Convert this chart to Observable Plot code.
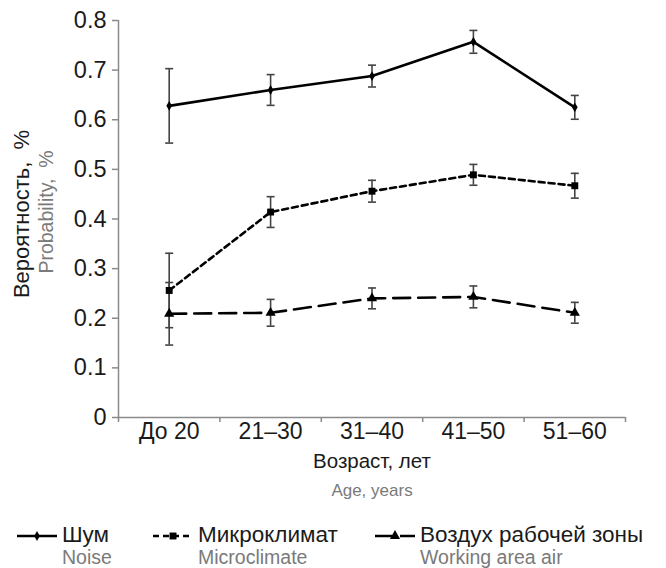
<!DOCTYPE html>
<html>
<head>
<meta charset="utf-8">
<script src="https://cdn.jsdelivr.net/npm/d3@7"></script>
<script src="https://cdn.jsdelivr.net/npm/@observablehq/plot@0.6"></script>
<style>
  html, body { margin: 0; padding: 0; background: #fff; }
  body { width: 666px; height: 568px; overflow: hidden; font-family: "Liberation Sans", Arial, sans-serif; }
  #chart svg { display: block; }
  #legend { position: relative; width: 666px; height: 63px; }
  .sw { position: absolute; top: 25px; }
  .ru { position: absolute; top: 18px; font-size: 22.5px; color: #1a1a1a; white-space: nowrap; line-height: 24px; }
  .en { position: absolute; top: 42px; font-size: 19.5px; color: #7a7a7a; white-space: nowrap; line-height: 21px; }
</style>
</head>
<body>
<div id="chart"></div>
<div id="legend"></div>
<script>
const categories = ["До 20", "21–30", "31–40", "41–50", "51–60"];
const noise      = [0.628, 0.660, 0.688, 0.757, 0.625];
const noiseErr   = [0.075, 0.031, 0.022, 0.023, 0.024];
const micro      = [0.256, 0.414, 0.456, 0.489, 0.467];
const microErr   = [0.075, 0.031, 0.022, 0.021, 0.025];
const air        = [0.209, 0.211, 0.240, 0.243, 0.211];
const airErr     = [0.063, 0.027, 0.021, 0.022, 0.021];
const yTicks     = [0, 0.1, 0.2, 0.3, 0.4, 0.5, 0.6, 0.7, 0.8];
const seriesNames = ["Шум", "Микроклимат", "Воздух рабочей зоны"];
const seriesNamesEn = ["Noise", "Microclimate", "Working area air"];

const xIdx = categories.map((_, i) => i);
const bounds = [-0.5, 0.5, 1.5, 2.5, 3.5, 4.5];

function rows(vals, errs) {
  return vals.map((v, i) => ({i, v, lo: v - errs[i], hi: v + errs[i]}));
}
const sNoise = rows(noise, noiseErr);
const sMicro = rows(micro, microErr);
const sAir = rows(air, airErr);
const allRows = [...sNoise, ...sMicro, ...sAir];

const capSymbol = { draw(ctx) { ctx.moveTo(-4, 0); ctx.lineTo(4, 0); } };

const font = '"Liberation Sans", Arial, sans-serif';
const chart = Plot.plot({
  width: 666,
  height: 505,
  marginLeft: 118,
  marginRight: 41,
  marginTop: 20,
  marginBottom: 88,
  style: { fontFamily: font, background: "#fff" },
  x: { domain: [-0.5, 4.5], axis: null, label: null },
  y: { domain: [0, 0.8], axis: null, label: null },
  marks: [
    Plot.ruleX([-0.5], { y1: 0, y2: 0.8, stroke: "#8a8a8a", strokeWidth: 1.5 }),
    Plot.ruleY([0], { x1: -0.5, x2: 4.5, stroke: "#8a8a8a", strokeWidth: 1.5 }),
    Plot.axisY({ ticks: yTicks, tickSize: 6, stroke: "#8a8a8a", strokeWidth: 1.5, tickFormat: () => "", label: null }),
    Plot.axisY({ ticks: yTicks, tickSize: 0, tickPadding: 12, color: "#1a1a1a", fontSize: 23.5, label: null,
      tickFormat: d => d === 0 ? "0" : d.toFixed(1) }),
    Plot.axisX({ ticks: bounds, tickSize: 5, stroke: "#8a8a8a", strokeWidth: 1.5, tickFormat: () => "", label: null }),
    Plot.axisX({ ticks: xIdx, tickSize: 0, tickPadding: 5, color: "#1a1a1a", fontSize: 23, label: null,
      tickFormat: i => categories[i] }),
    // error bars
    Plot.ruleX(allRows, { x: "i", y1: "lo", y2: "hi", stroke: "#444", strokeWidth: 1.6 }),
    Plot.dot(allRows, { x: "i", y: "lo", symbol: capSymbol, stroke: "#444", strokeWidth: 1.6, fill: "none" }),
    Plot.dot(allRows, { x: "i", y: "hi", symbol: capSymbol, stroke: "#444", strokeWidth: 1.6, fill: "none" }),
    // lines
    Plot.line(sNoise, { x: "i", y: "v", stroke: "#000", strokeWidth: 2.6 }),
    Plot.line(sMicro, { x: "i", y: "v", stroke: "#000", strokeWidth: 2.6, strokeDasharray: "6,4" }),
    Plot.line(sAir, { x: "i", y: "v", stroke: "#000", strokeWidth: 2.6, strokeDasharray: "17,8" }),
    // markers
    Plot.dot(sNoise, { x: "i", y: "v", symbol: "diamond", r: 3, fill: "#000" }),
    Plot.dot(sMicro, { x: "i", y: "v", symbol: "square", r: 3.9, fill: "#000" }),
    Plot.dot(sAir, { x: "i", y: "v", symbol: "triangle", r: 3.8, fill: "#000" }),
    // axis titles
    Plot.text(["Возраст, лет"], { frameAnchor: "bottom", dy: 50, fontSize: 20.5, fill: "#1a1a1a" }),
    Plot.text(["Age, years"], { frameAnchor: "bottom", dy: 78, fontSize: 17, fill: "#7a7a7a" }),
    Plot.text(["Вероятность,  %"], { frameAnchor: "left", textAnchor: "middle", dx: -97, dy: -5, rotate: -90,
      fontSize: 22, fill: "#1a1a1a", letterSpacing: "0.6px" }),
    Plot.text(["Probability,  %"], { frameAnchor: "left", textAnchor: "middle", dx: -72, dy: -7, rotate: -90,
      fontSize: 19.5, fill: "#7a7a7a", letterSpacing: "1px" })
  ]
});
document.getElementById("chart").appendChild(chart);

// legend
const legend = document.getElementById("legend");
const swatchDash = ["", "6,4", "17,8"];
const swatchX = [16, 152, 374];
const textX = [62, 198, 420];
seriesNames.forEach((name, k) => {
  const sw = d3.create("svg").attr("class", "sw").attr("width", 42).attr("height", 12)
    .style("left", swatchX[k] + "px");
  sw.append("line").attr("x1", 1).attr("x2", 41).attr("y1", 6).attr("y2", 6)
    .attr("stroke", "#000").attr("stroke-width", 2.4)
    .attr("stroke-dasharray", swatchDash[k] || null);
  const sz = k === 0 ? 28 : k === 1 ? 48 : 45;
  sw.append("path").attr("transform", "translate(21,6)")
    .attr("d", d3.symbol(k === 0 ? d3.symbolDiamond : k === 1 ? d3.symbolSquare : d3.symbolTriangle, sz)())
    .attr("fill", "#000");
  legend.appendChild(sw.node());
  const ru = document.createElement("div");
  ru.className = "ru"; ru.style.left = textX[k] + "px"; ru.textContent = name;
  const en = document.createElement("div");
  en.className = "en"; en.style.left = textX[k] + "px"; en.textContent = seriesNamesEn[k];
  legend.appendChild(ru); legend.appendChild(en);
});
</script>
</body>
</html>
